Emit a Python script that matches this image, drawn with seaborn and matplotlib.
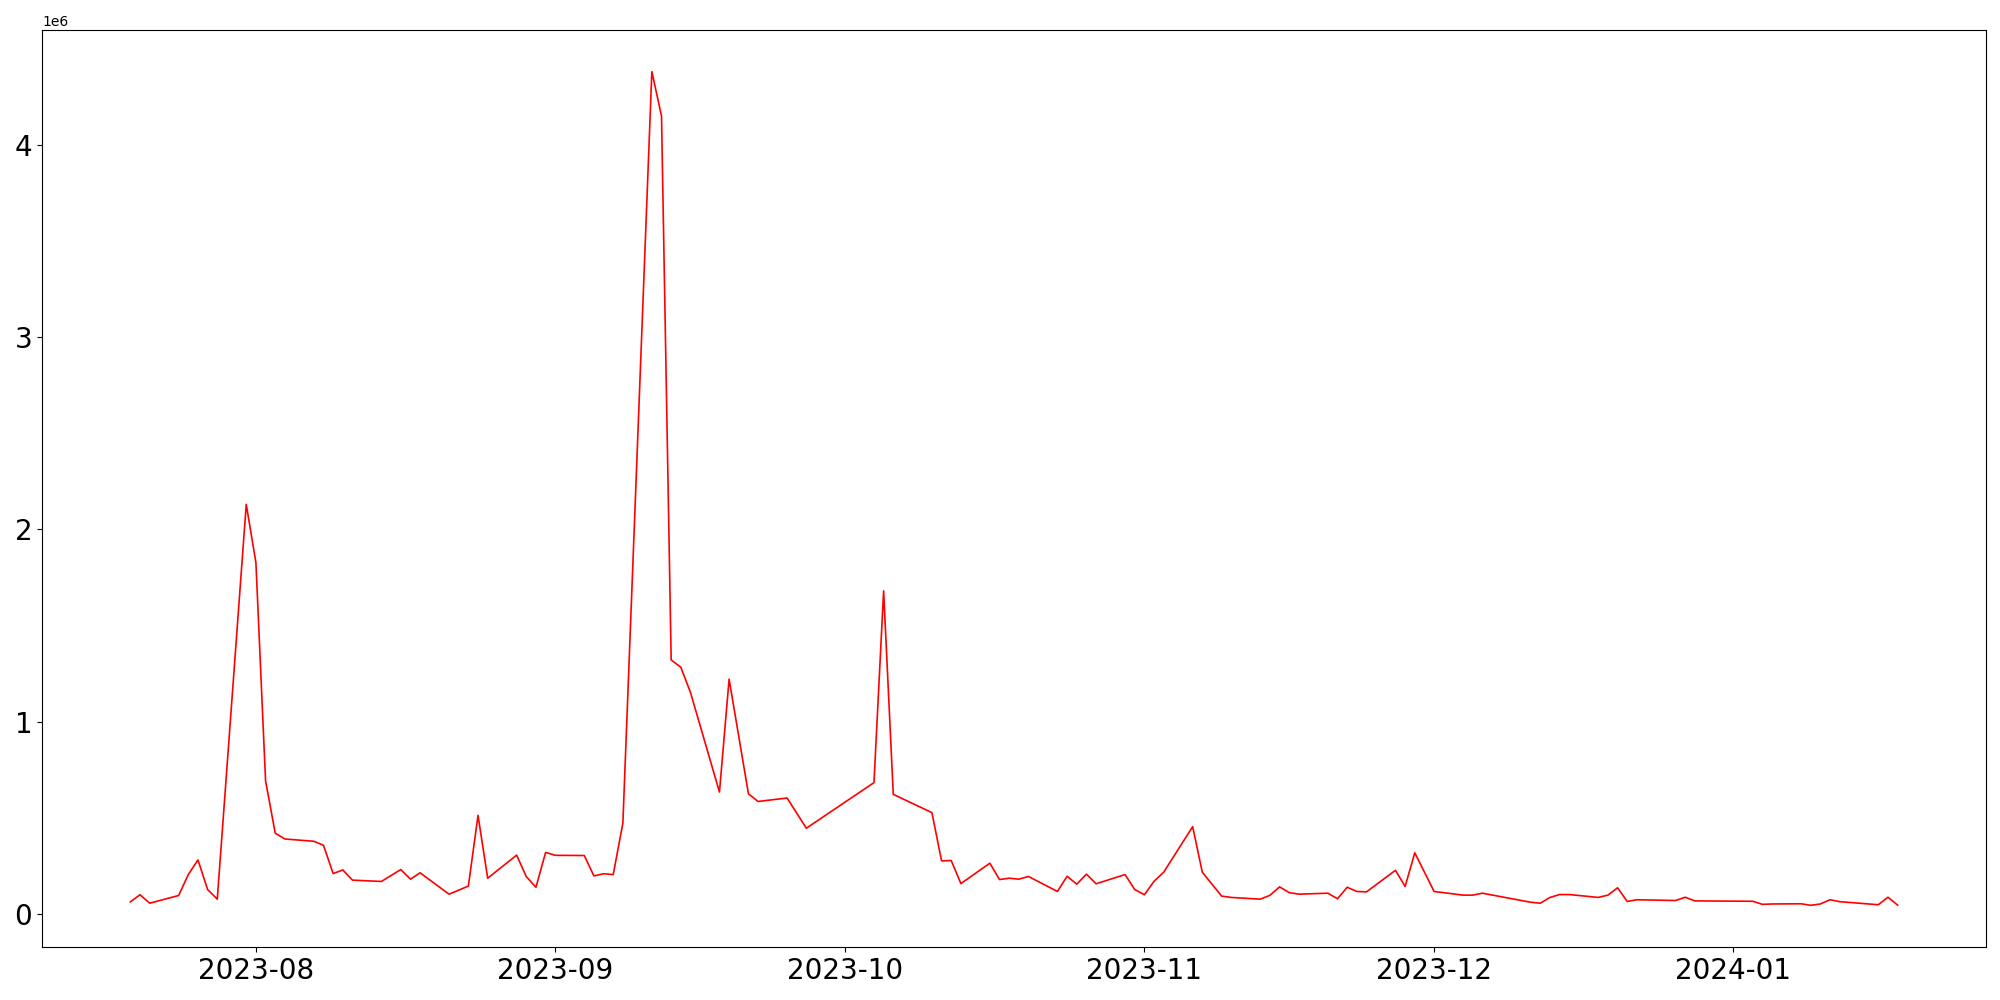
import pandas as pd
import matplotlib
matplotlib.use("Agg")
import matplotlib.pyplot as plt
import seaborn as sns

# daily values (weekdays only, gaps where the line runs straight)
dates = [
    "2023-07-19", "2023-07-20", "2023-07-21", "2023-07-24", "2023-07-25", "2023-07-26",
    "2023-07-27", "2023-07-28", "2023-07-31", "2023-08-01", "2023-08-02", "2023-08-03",
    "2023-08-04", "2023-08-07", "2023-08-08", "2023-08-09", "2023-08-10", "2023-08-11",
    "2023-08-14", "2023-08-16", "2023-08-17", "2023-08-18", "2023-08-21", "2023-08-23",
    "2023-08-24", "2023-08-25", "2023-08-28", "2023-08-29", "2023-08-30", "2023-08-31",
    "2023-09-01", "2023-09-04", "2023-09-05", "2023-09-06", "2023-09-07", "2023-09-08",
    "2023-09-11", "2023-09-12", "2023-09-13", "2023-09-14", "2023-09-15", "2023-09-18",
    "2023-09-19", "2023-09-21", "2023-09-22", "2023-09-25", "2023-09-27", "2023-10-04",
    "2023-10-05", "2023-10-06", "2023-10-10", "2023-10-11", "2023-10-12", "2023-10-13",
    "2023-10-16", "2023-10-17", "2023-10-18", "2023-10-19", "2023-10-20", "2023-10-23",
    "2023-10-24", "2023-10-25", "2023-10-26", "2023-10-27", "2023-10-30", "2023-10-31",
    "2023-11-01", "2023-11-02", "2023-11-03", "2023-11-06", "2023-11-07", "2023-11-09",
    "2023-11-10", "2023-11-13", "2023-11-14", "2023-11-15", "2023-11-16", "2023-11-17",
    "2023-11-20", "2023-11-21", "2023-11-22", "2023-11-23", "2023-11-24", "2023-11-27",
    "2023-11-28", "2023-11-29", "2023-12-01", "2023-12-04", "2023-12-05", "2023-12-06",
    "2023-12-11", "2023-12-12", "2023-12-13", "2023-12-14", "2023-12-15", "2023-12-18",
    "2023-12-19", "2023-12-20", "2023-12-21", "2023-12-22", "2023-12-26", "2023-12-27",
    "2023-12-28", "2024-01-03", "2024-01-04", "2024-01-05", "2024-01-08", "2024-01-09",
    "2024-01-10", "2024-01-11", "2024-01-12", "2024-01-16", "2024-01-17", "2024-01-18",
]

# values in millions
values_m = [
    0.063, 0.100, 0.056, 0.096, 0.205, 0.281,
    0.127, 0.077, 2.130, 1.827, 0.693, 0.420,
    0.390, 0.378, 0.357, 0.210, 0.229, 0.176,
    0.169, 0.231, 0.181, 0.214, 0.103, 0.145,
    0.513, 0.186, 0.306, 0.194, 0.139, 0.320,
    0.305, 0.304, 0.198, 0.209, 0.205, 0.473,
    4.380, 4.150, 1.321, 1.283, 1.152, 0.634,
    1.221, 0.625, 0.585, 0.603, 0.446, 0.683,
    1.680, 0.622, 0.527, 0.276, 0.278, 0.158,
    0.264, 0.179, 0.186, 0.181, 0.195, 0.117,
    0.196, 0.155, 0.207, 0.157, 0.205, 0.127,
    0.100, 0.170, 0.217, 0.454, 0.217, 0.093,
    0.086, 0.077, 0.097, 0.141, 0.111, 0.103,
    0.108, 0.079, 0.139, 0.117, 0.115, 0.227,
    0.143, 0.318, 0.117, 0.098, 0.098, 0.108,
    0.061, 0.056, 0.086, 0.101, 0.101, 0.086,
    0.098, 0.136, 0.065, 0.074, 0.070, 0.087,
    0.068, 0.066, 0.050, 0.052, 0.053, 0.045,
    0.052, 0.074, 0.064, 0.048, 0.087, 0.046,
]

df = pd.DataFrame({
    "date": pd.to_datetime(dates),
    "value": [v * 1e6 for v in values_m],
})

# plain matplotlib look: black ticks and text, no grid
plt.rcParams['font.family'] = ['DejaVu Sans']

fig, ax = plt.subplots(figsize=(20, 10), dpi=100)
sns.lineplot(data=df, x="date", y="value", color="red", linewidth=1.2, ax=ax)

ax.set_xlabel("")
ax.set_ylabel("")
ax.tick_params(axis='both', labelsize=20, colors="black")
ax.grid(False)

plt.subplots_adjust(left=0.021, right=0.993, top=0.97, bottom=0.053)
plt.savefig("out.png", dpi=100)
plt.close()
